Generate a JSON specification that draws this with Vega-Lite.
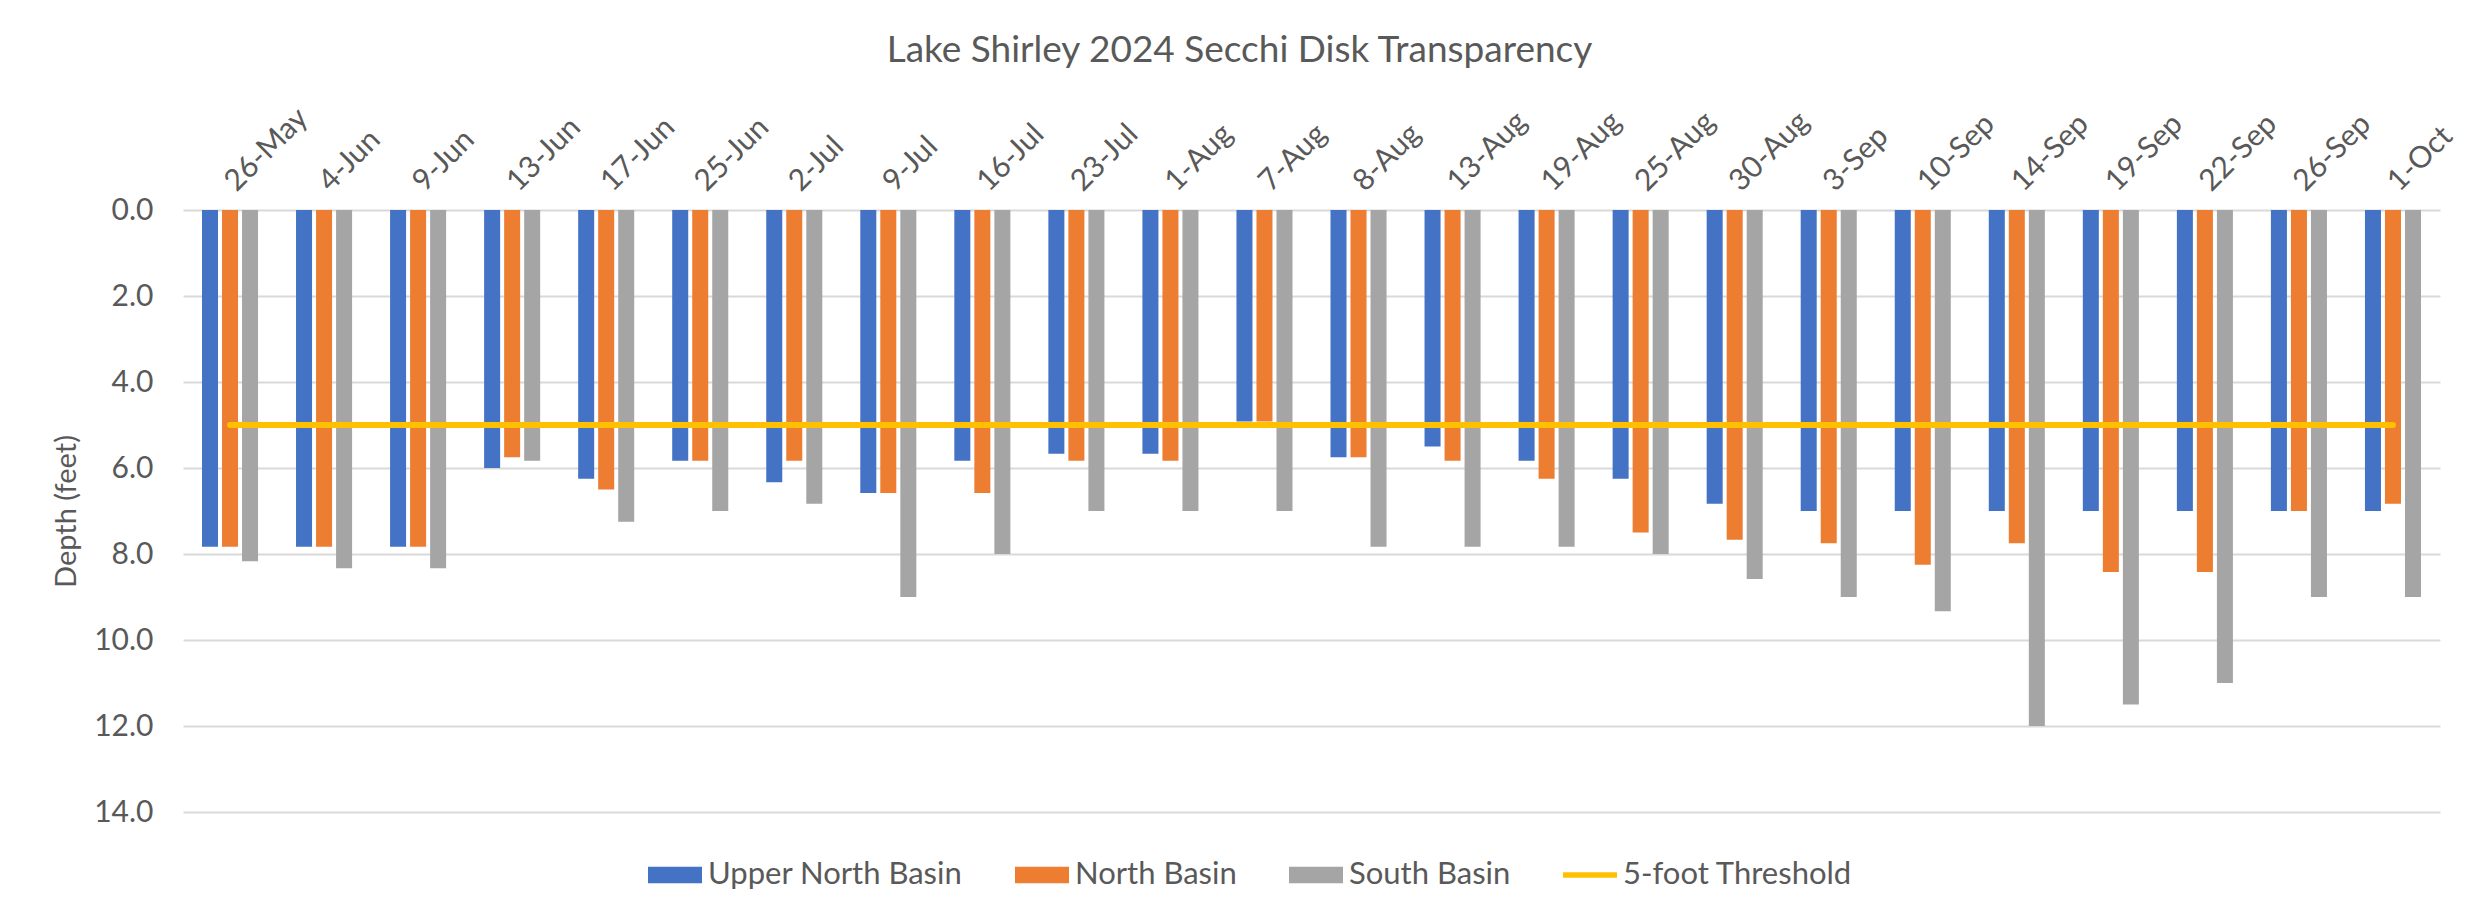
{
  "$schema": "https://vega.github.io/schema/vega-lite/v6.json",
  "width": 2257,
  "height": 602,
  "autosize": {"type": "none"},
  "padding": {"left": 183, "top": 210, "right": 34, "bottom": 105},
  "background": "white",
  "config": {"font": "Lato", "view": {"stroke": null}},
  "title": {
    "text": "Lake Shirley 2024 Secchi Disk Transparency",
    "font": "Lato",
    "fontSize": 37,
    "fontWeight": "normal",
    "color": "#595959",
    "anchor": "middle",
    "dx": -72,
    "offset": 32
  },
  "data": {
    "values": [
      {"date": "26-May", "Upper North Basin": 7.83, "North Basin": 7.83, "South Basin": 8.17, "5-foot Threshold": 5},
      {"date": "4-Jun", "Upper North Basin": 7.83, "North Basin": 7.83, "South Basin": 8.33, "5-foot Threshold": 5},
      {"date": "9-Jun", "Upper North Basin": 7.83, "North Basin": 7.83, "South Basin": 8.33, "5-foot Threshold": 5},
      {"date": "13-Jun", "Upper North Basin": 6.0, "North Basin": 5.75, "South Basin": 5.83, "5-foot Threshold": 5},
      {"date": "17-Jun", "Upper North Basin": 6.25, "North Basin": 6.5, "South Basin": 7.25, "5-foot Threshold": 5},
      {"date": "25-Jun", "Upper North Basin": 5.83, "North Basin": 5.83, "South Basin": 7.0, "5-foot Threshold": 5},
      {"date": "2-Jul", "Upper North Basin": 6.33, "North Basin": 5.83, "South Basin": 6.83, "5-foot Threshold": 5},
      {"date": "9-Jul", "Upper North Basin": 6.58, "North Basin": 6.58, "South Basin": 9.0, "5-foot Threshold": 5},
      {"date": "16-Jul", "Upper North Basin": 5.83, "North Basin": 6.58, "South Basin": 8.0, "5-foot Threshold": 5},
      {"date": "23-Jul", "Upper North Basin": 5.67, "North Basin": 5.83, "South Basin": 7.0, "5-foot Threshold": 5},
      {"date": "1-Aug", "Upper North Basin": 5.67, "North Basin": 5.83, "South Basin": 7.0, "5-foot Threshold": 5},
      {"date": "7-Aug", "Upper North Basin": 4.92, "North Basin": 4.92, "South Basin": 7.0, "5-foot Threshold": 5},
      {"date": "8-Aug", "Upper North Basin": 5.75, "North Basin": 5.75, "South Basin": 7.83, "5-foot Threshold": 5},
      {"date": "13-Aug", "Upper North Basin": 5.5, "North Basin": 5.83, "South Basin": 7.83, "5-foot Threshold": 5},
      {"date": "19-Aug", "Upper North Basin": 5.83, "North Basin": 6.25, "South Basin": 7.83, "5-foot Threshold": 5},
      {"date": "25-Aug", "Upper North Basin": 6.25, "North Basin": 7.5, "South Basin": 8.0, "5-foot Threshold": 5},
      {"date": "30-Aug", "Upper North Basin": 6.83, "North Basin": 7.67, "South Basin": 8.58, "5-foot Threshold": 5},
      {"date": "3-Sep", "Upper North Basin": 7.0, "North Basin": 7.75, "South Basin": 9.0, "5-foot Threshold": 5},
      {"date": "10-Sep", "Upper North Basin": 7.0, "North Basin": 8.25, "South Basin": 9.33, "5-foot Threshold": 5},
      {"date": "14-Sep", "Upper North Basin": 7.0, "North Basin": 7.75, "South Basin": 12.0, "5-foot Threshold": 5},
      {"date": "19-Sep", "Upper North Basin": 7.0, "North Basin": 8.42, "South Basin": 11.5, "5-foot Threshold": 5},
      {"date": "22-Sep", "Upper North Basin": 7.0, "North Basin": 8.42, "South Basin": 11.0, "5-foot Threshold": 5},
      {"date": "26-Sep", "Upper North Basin": 7.0, "North Basin": 7.0, "South Basin": 9.0, "5-foot Threshold": 5},
      {"date": "1-Oct", "Upper North Basin": 7.0, "North Basin": 6.83, "South Basin": 9.0, "5-foot Threshold": 5}
    ]
  },
  "transform": [
    {"fold": ["Upper North Basin", "North Basin", "South Basin", "5-foot Threshold"], "as": ["series", "depth"]}
  ],
  "encoding": {
    "x": {
      "field": "date",
      "type": "nominal",
      "sort": null,
      "scale": {"paddingInner": 0.404, "paddingOuter": 0.202},
      "axis": {
        "orient": "top",
        "title": null,
        "labelAngle": -45,
        "labelAlign": "left",
        "labelBaseline": "middle",
        "labelFont": "Lato",
        "labelFontSize": 30,
        "labelColor": "#595959",
        "labelPadding": 24,
        "ticks": false,
        "domain": false,
        "grid": false
      }
    }
  },
  "layer": [
    {
      "transform": [{"filter": "datum.series !== '5-foot Threshold'"}],
      "mark": {"type": "bar"},
      "encoding": {
        "xOffset": {
          "field": "series",
          "type": "nominal",
          "scale": {"domain": ["Upper North Basin", "North Basin", "South Basin"], "paddingInner": 0.2, "paddingOuter": 0}
        },
        "y": {
          "field": "depth",
          "type": "quantitative",
          "scale": {"domain": [0, 14], "reverse": true, "nice": false},
          "axis": {
            "title": "Depth (feet)",
            "titleFont": "Lato",
            "titleFontSize": 29,
            "titleFontWeight": "normal",
            "titleColor": "#595959",
            "titlePadding": 12,
            "values": [0, 2, 4, 6, 8, 10, 12, 14],
            "format": ".1f",
            "labelFont": "Lato",
            "labelFontSize": 30,
            "labelColor": "#595959",
            "labelPadding": 30,
            "ticks": false,
            "domain": false,
            "grid": true,
            "gridColor": "#D9D9D9",
            "gridWidth": 2
          }
        },
        "color": {
          "field": "series",
          "type": "nominal",
          "scale": {
            "domain": ["Upper North Basin", "North Basin", "South Basin", "5-foot Threshold"],
            "range": ["#4472C4", "#ED7D31", "#A5A5A5", "#FFC000"]
          },
          "legend": {
            "title": null,
            "orient": "none",
            "legendX": 465,
            "legendY": 638,
            "direction": "horizontal",
            "columns": 4,
            "columnPadding": 52,
            "symbolSize": 2916,
            "symbolType": "M-1,-0.31H1V0.31H-1Z",
            "symbolStrokeWidth": 0,
            "labelFont": "Lato",
            "labelFontSize": 31,
            "labelColor": "#595959",
            "labelOffset": 6,
            "labelLimit": 0,
            "encode": {
              "symbols": {
                "update": {
                  "shape": {"signal": "datum.value === '5-foot Threshold' ? 'M-1,-0.1H1V0.1H-1Z' : 'M-1,-0.31H1V0.31H-1Z'"},
                  "fill": {"scale": "color", "field": "value"},
                  "opacity": {"value": 1},
                  "fillOpacity": {"value": 1},
                  "strokeWidth": {"value": 0}
                }
              }
            }
          }
        }
      }
    },
    {
      "transform": [{"filter": "datum.series === '5-foot Threshold'"}],
      "mark": {"type": "line", "strokeWidth": 6, "strokeCap": "round"},
      "encoding": {
        "y": {"field": "depth", "type": "quantitative"},
        "color": {"field": "series", "type": "nominal"}
      }
    }
  ]
}
